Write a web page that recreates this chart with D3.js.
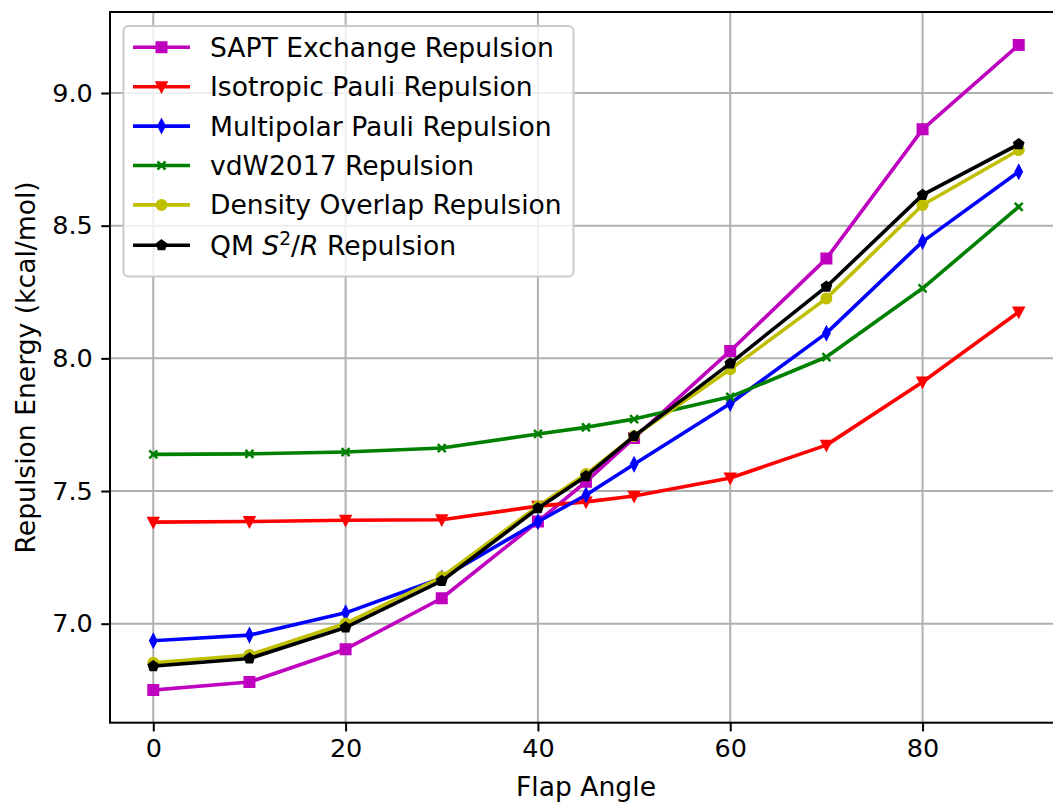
<!DOCTYPE html>
<html>
<head>
<meta charset="utf-8">
<script src="https://cdn.jsdelivr.net/npm/d3@7"></script>
<style>
  html, body { margin: 0; padding: 0; background: #fff; }
  svg { display: block; }
  text { font-family: "DejaVu Sans", sans-serif; }
</style>
</head>
<body>
<svg id="chart" width="1053" height="802"></svg>
<script>
// ---- data ----
const flapAngles = [0, 10, 20, 30, 40, 45, 50, 60, 70, 80, 90];
const saptExchange = [6.750, 6.780, 6.904, 7.096, 7.385, 7.535, 7.700, 8.028, 8.376, 8.863, 9.181];
const isotropicPauli = [7.383, 7.385, 7.390, 7.392, 7.443, 7.459, 7.481, 7.549, 7.673, 7.911, 8.175];
const multipolarPauli = [6.936, 6.957, 7.041, 7.172, 7.384, 7.485, 7.601, 7.830, 8.095, 8.440, 8.703];
const vdw2017 = [7.638, 7.640, 7.647, 7.662, 7.715, 7.740, 7.771, 7.855, 8.005, 8.264, 8.571];
const densityOverlap = [6.853, 6.882, 7.001, 7.176, 7.443, 7.564, 7.707, 7.959, 8.226, 8.578, 8.785];
const qmS2R = [6.840, 6.869, 6.986, 7.161, 7.435, 7.556, 7.707, 7.981, 8.270, 8.616, 8.807];
const xTicks = [0, 20, 40, 60, 80];
const yTicks = [7.0, 7.5, 8.0, 8.5, 9.0];
const seriesNames = ["SAPT Exchange Repulsion", "Isotropic Pauli Repulsion", "Multipolar Pauli Repulsion",
  "vdW2017 Repulsion", "Density Overlap Repulsion", "QM S2/R Repulsion"];

const series = [
  { name: seriesNames[0], values: saptExchange, color: "#bf00bf", marker: "square" },
  { name: seriesNames[1], values: isotropicPauli, color: "#ff0000", marker: "tridown" },
  { name: seriesNames[2], values: multipolarPauli, color: "#0000ff", marker: "thindiamond" },
  { name: seriesNames[3], values: vdw2017, color: "#008000", marker: "x" },
  { name: seriesNames[4], values: densityOverlap, color: "#bfbf00", marker: "circle" },
  { name: seriesNames[5], values: qmS2R, color: "#000000", marker: "pentagon" }
];

// ---- layout ----
const svg = d3.select("#chart");
const pLeft = 110, pRight = 1062, pTop = 12, pBottom = 722.7;
const x = d3.scaleLinear().domain([-4.5, 94.5]).range([pLeft, pRight]);
const y = d3.scaleLinear().domain([6.6269, 9.3053]).range([pBottom, pTop]);
const FS = 25.5;   // tick labels
const LFS = 26.6;  // axis labels and legend

// grid
const grid = svg.append("g");
grid.selectAll("line.vx").data(xTicks).enter().append("line")
  .attr("x1", d => x(d)).attr("x2", d => x(d)).attr("y1", pTop).attr("y2", pBottom)
  .attr("stroke", "#b0b0b0").attr("stroke-width", 2);
grid.selectAll("line.hy").data(yTicks).enter().append("line")
  .attr("x1", pLeft).attr("x2", pRight).attr("y1", d => y(d)).attr("y2", d => y(d))
  .attr("stroke", "#b0b0b0").attr("stroke-width", 2);

// markers
function markerPath(type, s) {
  const h = s / 2;
  switch (type) {
    case "square": return `M${-h},${-h}H${h}V${h}H${-h}Z`;
    case "tridown": return `M${-h},${-h * 0.85}L${h},${-h * 0.85}L0,${h * 1.05}Z`;
    case "thindiamond": return `M0,${-h * 1.15}L${h * 0.6},0L0,${h * 1.15}L${-h * 0.6},0Z`;
    case "circle": return d3.symbol(d3.symbolCircle, Math.PI * h * h)();
    case "pentagon": {
      const pts = d3.range(5).map(i => {
        const a = -Math.PI / 2 + i * 2 * Math.PI / 5;
        return [h * 1.05 * Math.cos(a), h * 1.05 * Math.sin(a)];
      });
      return "M" + pts.map(p => p.join(",")).join("L") + "Z";
    }
    case "x": return `M${-h},${-h}L${h},${h}M${-h},${h}L${h},${-h}`;
  }
}
const markerSize = { square: 10.5, tridown: 11, thindiamond: 12, x: 8, circle: 10.5, pentagon: 10 };

function drawMarker(g, type, color, cx, cy) {
  const p = g.append("path").attr("d", markerPath(type, markerSize[type]))
    .attr("transform", `translate(${cx},${cy})`);
  if (type === "x") p.attr("fill", "none").attr("stroke", color).attr("stroke-width", 2.5);
  else p.attr("fill", color).attr("stroke", color).attr("stroke-width", 1.5);
}

const line = d3.line().x(d => x(d[0])).y(d => y(d[1]));
const plot = svg.append("g");
series.forEach(s => {
  const pts = flapAngles.map((a, i) => [a, s.values[i]]);
  const g = plot.append("g");
  g.append("path").datum(pts).attr("d", line).attr("fill", "none")
    .attr("stroke", s.color).attr("stroke-width", 3.6).attr("stroke-linejoin", "round").attr("stroke-linecap", "square");
  pts.forEach(p => drawMarker(g, s.marker, s.color, x(p[0]), y(p[1])));
});

// axes
const xAxis = d3.axisBottom(x).tickValues(xTicks).tickFormat(d3.format("d")).tickSize(8.75).tickPadding(7);
const yAxis = d3.axisLeft(y).tickValues(yTicks).tickFormat(d3.format(".1f")).tickSize(8.75).tickPadding(8.5);
const gx = svg.append("g").attr("transform", `translate(0,${pBottom})`).call(xAxis);
const gy = svg.append("g").attr("transform", `translate(${pLeft},0)`).call(yAxis);
[gx, gy].forEach(g => {
  g.select(".domain").remove();
  g.selectAll(".tick line").attr("stroke", "#000").attr("stroke-width", 2);
  g.selectAll(".tick text").attr("fill", "#000").style("font-size", FS + "px").style("font-family", "DejaVu Sans");
});
// spines
svg.append("rect").attr("x", pLeft).attr("y", pTop).attr("width", pRight - pLeft).attr("height", pBottom - pTop)
  .attr("fill", "none").attr("stroke", "#000").attr("stroke-width", 2);

// axis labels
svg.append("text").attr("x", (pLeft + pRight) / 2).attr("y", 796).attr("text-anchor", "middle")
  .style("font-size", LFS + "px").text("Flap Angle");
svg.append("text").attr("transform", `translate(35,${(pTop + pBottom) / 2}) rotate(-90)`).attr("text-anchor", "middle")
  .style("font-size", LFS + "px").text("Repulsion Energy (kcal/mol)");

// legend
const lg = svg.append("g");
lg.append("rect").attr("x", 123.5).attr("y", 26).attr("width", 450).attr("height", 250.5).attr("rx", 5)
  .attr("fill", "#fff").attr("fill-opacity", 0.8).attr("stroke", "#cccccc").attr("stroke-width", 2);
series.forEach((s, i) => {
  const ry = 47.3 + i * 39.4 + (i === 5 ? 1 : 0);
  lg.append("line").attr("x1", 133).attr("x2", 190).attr("y1", ry).attr("y2", ry)
    .attr("stroke", s.color).attr("stroke-width", 3.6);
  drawMarker(lg, s.marker, s.color, 161.5, ry);
  const t = lg.append("text").attr("x", 210).attr("y", ry + 9.5).style("font-size", LFS + "px");
  if (i === 5) {
    t.append("tspan").text("QM ");
    t.append("tspan").style("font-style", "italic").text("S");
    t.append("tspan").attr("dy", -10).style("font-size", (LFS * 0.7) + "px").text("2");
    t.append("tspan").attr("dy", 10).text("/");
    t.append("tspan").style("font-style", "italic").text("R");
    t.append("tspan").text(" Repulsion");
  } else {
    t.text(s.name);
  }
});
</script>
</body>
</html>
